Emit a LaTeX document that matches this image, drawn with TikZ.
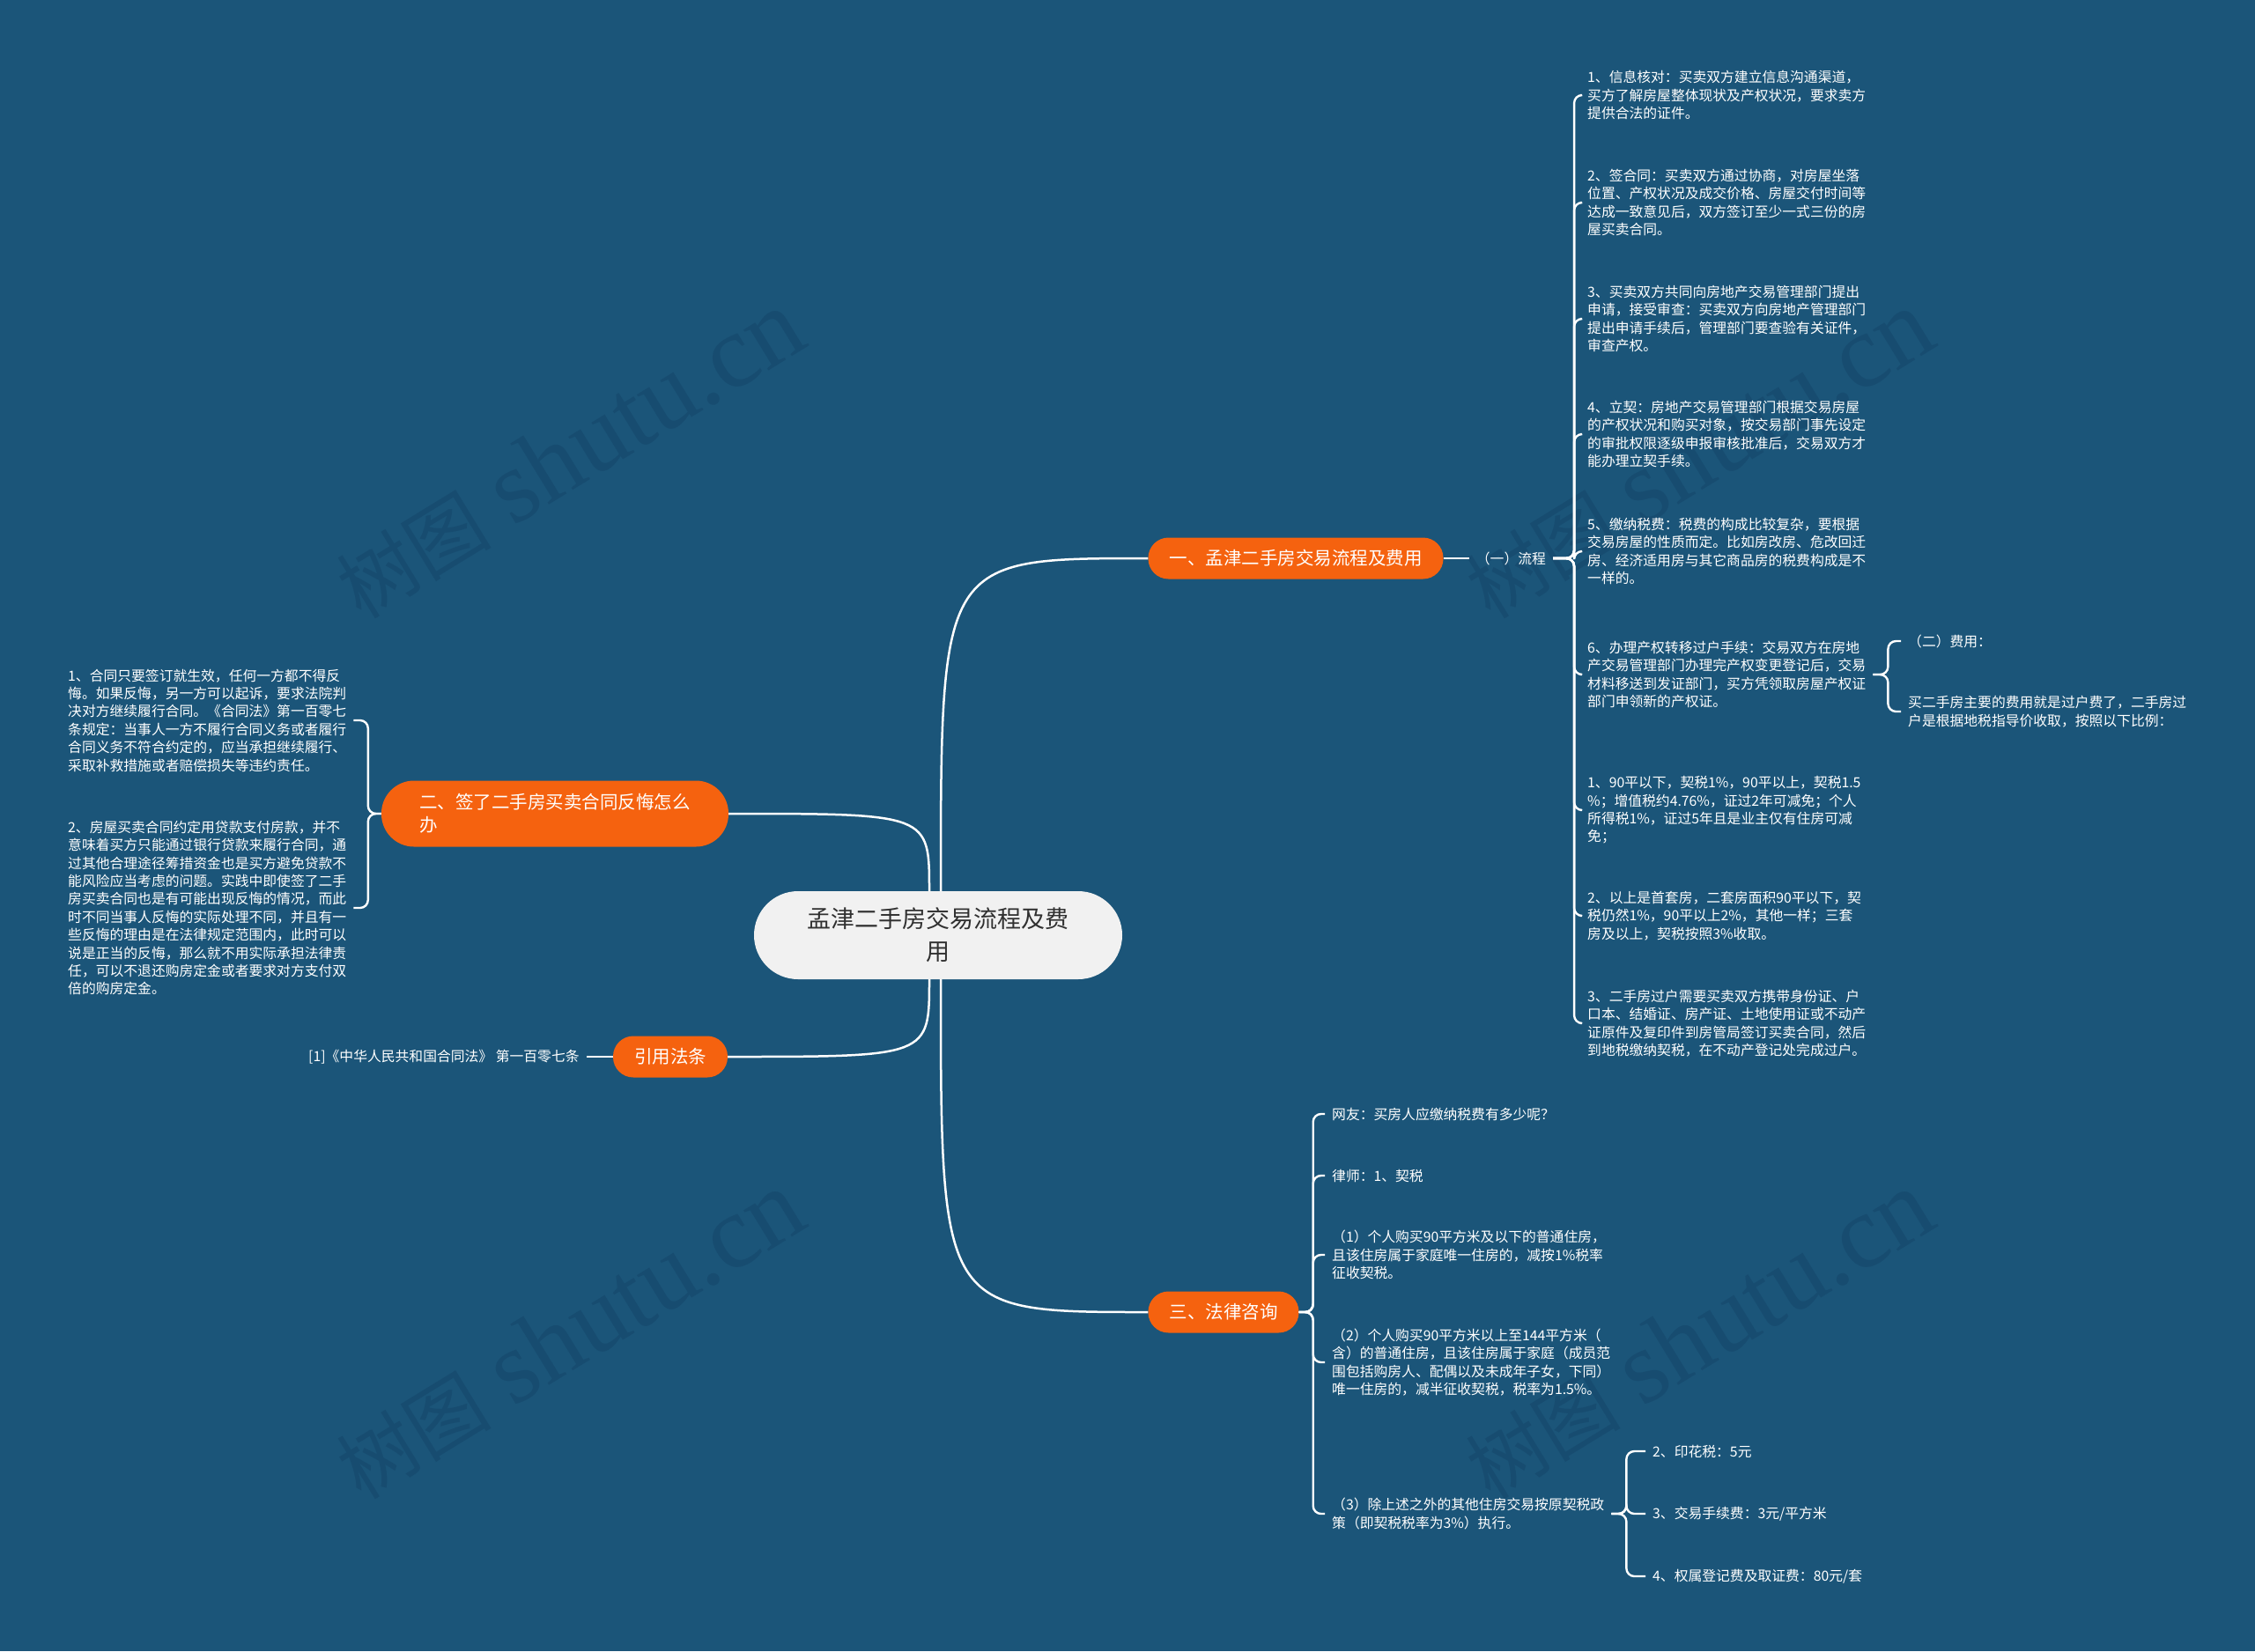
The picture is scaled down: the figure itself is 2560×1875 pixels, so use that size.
\documentclass[tikz,border=0pt]{standalone}
\usepackage{fontspec}
\setmainfont{Noto Sans CJK SC}
\newfontfamily\markfont{Liberation Serif}
\usetikzlibrary{positioning}
\definecolor{DeepBlue}{HTML}{1B5579}
\definecolor{MarkBlue}{HTML}{174C70}
\definecolor{TopicOrange}{HTML}{F5620F}
\definecolor{RootFill}{HTML}{F1F1F1}
\definecolor{RootInk}{HTML}{303030}

\begin{document}
\begin{tikzpicture}[x=1pt, y=-1pt,
    rootbox/.style={fill=RootFill, text=RootInk, rounded corners=50pt, minimum width=418pt, minimum height=100pt, align=center, font=\fontsize{27}{37}\selectfont},
    topic/.style={fill=TopicOrange, text=white, rounded corners=23pt, minimum height=47pt, inner xsep=24pt, font=\fontsize{20.5}{26}\selectfont},
    leaf/.style={text=white, align=left, inner xsep=8pt, inner ysep=0pt, font=\fontsize{15.8}{20.4}\selectfont},
    link/.style={draw=white, line width=2.5pt},
    brace/.style={draw=white, line width=2.4pt, rounded corners=9pt},
    wmark/.style={text=MarkBlue, rotate=31.5, font=\fontsize{118}{118}\selectfont}]
  \useasboundingbox (0,0) rectangle (2560,1875);
  \fill[DeepBlue] (0,0) rectangle (2560,1875);

  % watermark
  \foreach \px/\py [count=\k] in {646/516, 1928/516, 646/1516, 1928/1516}
    \node[wmark] (wm\k) at (\px,\py) {{\fontsize{88}{88}\selectfont 树图} {\markfont shutu.cn}};

  % centre and main topics
  \node[rootbox] (root) at (1065,1062) {孟津二手房交易流程及费\\用};
  \node[topic] (process) at (1471,634) {一、孟津二手房交易流程及费用};
  \node[topic, align=left, text width=308pt, inner xsep=43pt, minimum height=75pt, rounded corners=37pt] (regret) at (630,924) {二、签了二手房买卖合同反悔怎么\\办};
  \node[topic] (lawcite) at (761,1200) {引用法条};
  \node[topic] (consult) at (1389,1490) {三、法律咨询};

  \node[leaf, left=30pt of lawcite] (citetext) {[1]《中华人民共和国合同法》 第一百零七条};
  \node[leaf, right=29pt of process] (flow) {（一）流程};

  % process steps
  \node[leaf, anchor=west] (proc1) at (1794,108) {1、信息核对：买卖双方建立信息沟通渠道，\\买方了解房屋整体现状及产权状况，要求卖方\\提供合法的证件。};
  \node[leaf, anchor=west] (proc2) at (1794,230) {2、签合同：买卖双方通过协商，对房屋坐落\\位置、产权状况及成交价格、房屋交付时间等\\达成一致意见后，双方签订至少一式三份的房\\屋买卖合同。};
  \node[leaf, anchor=west] (proc3) at (1794,362) {3、买卖双方共同向房地产交易管理部门提出\\申请，接受审查：买卖双方向房地产管理部门\\提出申请手续后，管理部门要查验有关证件，\\审查产权。};
  \node[leaf, anchor=west] (proc4) at (1794,493) {4、立契：房地产交易管理部门根据交易房屋\\的产权状况和购买对象，按交易部门事先设定\\的审批权限逐级申报审核批准后，交易双方才\\能办理立契手续。};
  \node[leaf, anchor=west] (proc5) at (1794,626) {5、缴纳税费：税费的构成比较复杂，要根据\\交易房屋的性质而定。比如房改房、危改回迁\\房、经济适用房与其它商品房的税费构成是不\\一样的。};
  \node[leaf, anchor=west] (proc6) at (1794,766) {6、办理产权转移过户手续：交易双方在房地\\产交易管理部门办理完产权变更登记后，交易\\材料移送到发证部门，买方凭领取房屋产权证\\部门申领新的产权证。};
  \node[leaf, anchor=west] (proc7) at (1794,920) {1、90平以下，契税1\%，90平以上，契税1.5\\\%；增值税约4.76\%，证过2年可减免；个人\\所得税1\%，证过5年且是业主仅有住房可减\\免；};
  \node[leaf, anchor=west] (proc8) at (1794,1040) {2、以上是首套房，二套房面积90平以下，契\\税仍然1\%，90平以上2\%，其他一样；三套\\房及以上，契税按照3\%收取。};
  \node[leaf, anchor=west] (proc9) at (1794,1162) {3、二手房过户需要买卖双方携带身份证、户\\口本、结婚证、房产证、土地使用证或不动产\\证原件及复印件到房管局签订买卖合同，然后\\到地税缴纳契税，在不动产登记处完成过户。};

  \node[leaf, anchor=west] (cost1) at (2158,728) {（二）费用：};
  \node[leaf, anchor=west] (cost2) at (2158,808) {买二手房主要的费用就是过户费了，二手房过\\户是根据地税指导价收取，按照以下比例：};

  % regret
  \node[leaf, anchor=west] (regret1) at (69,818) {1、合同只要签订就生效，任何一方都不得反\\悔。如果反悔，另一方可以起诉，要求法院判\\决对方继续履行合同。《合同法》第一百零七\\条规定：当事人一方不履行合同义务或者履行\\合同义务不符合约定的，应当承担继续履行、\\采取补救措施或者赔偿损失等违约责任。};
  \node[leaf, anchor=west] (regret2) at (69,1031) {2、房屋买卖合同约定用贷款支付房款，并不\\意味着买方只能通过银行贷款来履行合同，通\\过其他合理途径筹措资金也是买方避免贷款不\\能风险应当考虑的问题。实践中即使签了二手\\房买卖合同也是有可能出现反悔的情况，而此\\时不同当事人反悔的实际处理不同，并且有一\\些反悔的理由是在法律规定范围内，此时可以\\说是正当的反悔，那么就不用实际承担法律责\\任，可以不退还购房定金或者要求对方支付双\\倍的购房定金。};

  % consult
  \node[leaf, anchor=west] (ask1) at (1504,1265) {网友：买房人应缴纳税费有多少呢？};
  \node[leaf, anchor=west] (ask2) at (1504,1335) {律师：1、契税};
  \node[leaf, anchor=west] (ask3) at (1504,1425) {（1）个人购买90平方米及以下的普通住房，\\且该住房属于家庭唯一住房的，减按1\%税率\\征收契税。};
  \node[leaf, anchor=west] (ask4) at (1504,1547) {（2）个人购买90平方米以上至144平方米（\\含）的普通住房，且该住房属于家庭（成员范\\围包括购房人、配偶以及未成年子女，下同）\\唯一住房的，减半征收契税，税率为1.5\%。};
  \node[leaf, anchor=west] (ask5) at (1504,1719) {（3）除上述之外的其他住房交易按原契税政\\策（即契税税率为3\%）执行。};
  \node[leaf, anchor=west] (tax1) at (1868,1648) {2、印花税：5元};
  \node[leaf, anchor=west] (tax2) at (1868,1719) {3、交易手续费：3元/平方米};
  \node[leaf, anchor=west] (tax3) at (1868,1790) {4、权属登记费及取证费：80元/套};

  % Connectors
  \draw[link] ([xshift=3pt]root.north) .. controls ([xshift=3pt]root.north |- process.west) .. (process.west);
  \draw[link] ([xshift=-10pt]root.north) .. controls ([xshift=-10pt]root.north |- regret.east) .. (regret.east);
  \draw[link] ([xshift=-10pt]root.south) .. controls ([xshift=-10pt]root.south |- lawcite.east) .. (lawcite.east);
  \draw[link] ([xshift=3pt]root.south) .. controls ([xshift=3pt]root.south |- consult.west) .. (consult.west);
  \draw[link] (process) -- (flow);
  \draw[link] (lawcite) -- (citetext);

  \foreach \n in {1,...,9}
    \draw[brace] (flow.east) -- ++(24,0) |- (proc\n.west);
  \foreach \n in {1,2}
    \draw[brace] (proc6.east) -- ++(17,0) |- (cost\n.west);
  \foreach \n in {1,2}
    \draw[brace] (regret.west) -- ++(-15,0) |- (regret\n.east);
  \foreach \n in {1,...,5}
    \draw[brace] (consult.east) -- ++(16,0) |- (ask\n.west);
  \foreach \n in {1,2,3}
    \draw[brace] (ask5.east) -- ++(17,0) |- (tax\n.west);
\end{tikzpicture}
\end{document}
